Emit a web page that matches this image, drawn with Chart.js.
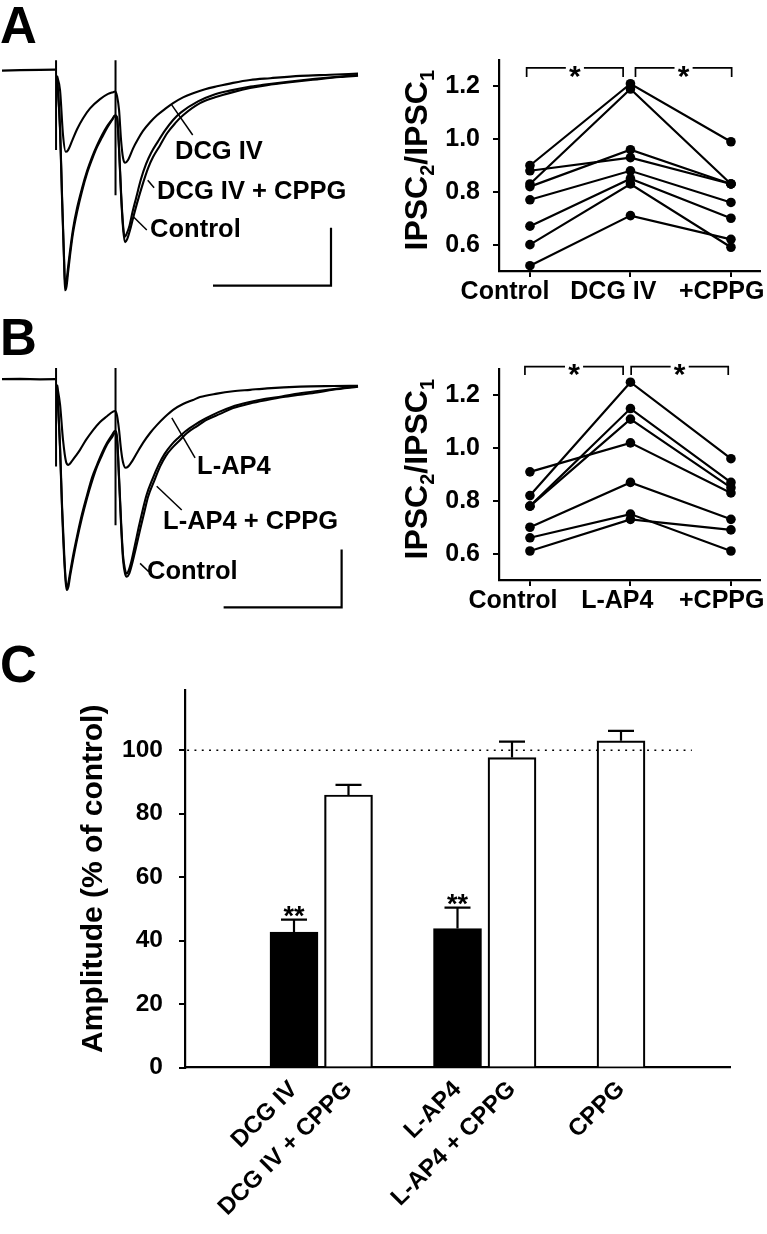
<!DOCTYPE html>
<html>
<head>
<meta charset="utf-8">
<script src="https://cdn.jsdelivr.net/npm/chart.js@4.4.0/dist/chart.umd.min.js"></script>
<style>
html,body{margin:0;padding:0;background:#fff;}
body{width:767px;height:1234px;position:relative;overflow:hidden;}
canvas{position:absolute;}
.letter{position:absolute;left:0;font:bold 51px/50px "Liberation Sans",Arial,sans-serif;color:#000;z-index:5;}
</style>
</head>
<body>
<canvas id="aTrace" width="390" height="310" style="left:0;top:0"></canvas>
<canvas id="aPlot" width="377" height="310" style="left:390px;top:0"></canvas>
<canvas id="bTrace" width="390" height="310" style="left:0;top:309px"></canvas>
<canvas id="bPlot" width="377" height="310" style="left:390px;top:309px"></canvas>
<canvas id="cBar" width="767" height="594" style="left:0;top:640px"></canvas>
<div class="letter" style="top:1px">A</div>
<div class="letter" style="top:313px">B</div>
<div class="letter" style="top:640px">C</div>
<script>
// ===================== DATA =====================
// Panel A traces: [time (ms), current (pA, relative to baseline)]
const traceA_baseline = [[-45.8,-1],[-30.5,0],[-13.6,0.5],[-0.5,1]];
const traceA_dcg = [[0.8,-10],[3.4,-35],[5.9,-112],[8.2,-141],[10.2,-138],[13.6,-122],[17.8,-102],[22.9,-83],[28.8,-66],[37.3,-50],[44.1,-41],[48.3,-38],[50.0,-37],
  [51.7,-45],[53.4,-69],[55.1,-121],[56.8,-152],[58.5,-160],[61.0,-155],[65.3,-135],[69.5,-119],[73.7,-105],[79.7,-90],[85.6,-78],[92.4,-67],[99.2,-57],[107.6,-47],[116.1,-40],[126.3,-33],[136.4,-28],[150.0,-22],[164.4,-17],[181.4,-14],[206.8,-10],[232.2,-8],[255.9,-6]];
const traceA_control = [[0.8,-10],[3.4,-104],[5.1,-224],[6.8,-331],[7.6,-380],[8.9,-373],[10.2,-349],[11.9,-319],[14.4,-281],[17.8,-245],[22.0,-209],[26.3,-178],[30.5,-154],[34.7,-133],[39.0,-116],[43.2,-100],[47.5,-86],[50.0,-79],
  [51.7,-83],[53.4,-138],[55.1,-216],[56.8,-273],[58.5,-297],[60.2,-292],[62.7,-276],[65.3,-255],[68.6,-230],[73.7,-195],[78.0,-169],[82.2,-150],[88.1,-130],[94.1,-109],[100.8,-92],[107.6,-78],[122.0,-57],[134.7,-47],[150.0,-38],[164.4,-31],[178.8,-26],[198.3,-21],[221.2,-16],[240.7,-12],[255.9,-9.5]];
const traceA_dcgCppg = [[0.8,-10],[3.4,-100],[5.1,-218],[6.8,-325],[7.6,-368],[8.9,-363],[10.2,-340],[11.9,-311],[14.4,-274],[17.8,-238],[22.0,-204],[26.3,-174],[30.5,-150],[34.7,-130],[39.0,-112],[43.2,-97],[47.5,-85],[50.0,-78],
  [51.7,-81],[53.4,-135],[55.1,-211],[56.8,-268],[58.1,-288],[59.7,-283],[62.3,-268],[64.8,-245],[67.8,-221],[72.0,-188],[76.3,-162],[80.5,-143],[86.4,-123],[92.4,-104],[99.2,-86],[105.9,-73],[120.3,-54],[133.1,-43],[148.3,-35],[162.7,-29],[177.1,-25],[196.6,-20],[219.5,-15],[240.7,-11],[255.9,-8.6]];
const stimA = [{t:0, top:17, bottom:-138}, {t:50.4, top:17, bottom:-216}];
const pointersA = [[[98,-60],[115.8,-112]], [[77.7,-190],[83.1,-203]], [[65.5,-253],[76.9,-276]]];
const labelsA = [{text:'DCG IV', t:100.8, pA:-141.5}, {text:'DCG IV + CPPG', t:85.6, pA:-210.6}, {text:'Control', t:79.7, pA:-276}];
const scaleBarA = {t:233, pA0:-372, ms:100, pA:100};

// Panel B traces
const traceB_baseline = [[-45.8,0],[-30.5,0.5],[-13.6,-0.3],[-0.5,0]];
const traceB_lap4 = [[0.8,-10],[3.4,-44],[5.9,-105],[8.5,-143],[10.4,-148],[13.6,-141],[16.9,-132],[20.3,-122],[25.4,-105],[31.4,-88],[37.3,-74],[43.2,-64],[48.3,-56],[50.0,-55],
  [51.7,-63],[53.4,-88],[55.1,-122],[56.8,-144],[58.9,-153],[61.0,-151],[65.3,-139],[69.5,-124],[73.7,-110],[79.7,-93],[85.6,-79],[92.4,-65],[99.2,-53],[107.6,-43],[116.1,-36],[122.0,-31],[136.4,-25],[150.0,-21],[164.4,-18.5],[178.8,-16],[206.8,-13],[234.7,-12],[255.9,-11.6]];
const traceB_control = [[0.8,-10],[3.4,-122],[5.1,-226],[7.2,-321],[9.1,-364],[10.6,-357],[11.9,-340],[14.4,-312],[17.8,-277],[22.0,-239],[26.3,-205],[30.5,-176],[34.7,-151],[39.0,-131],[43.2,-113],[47.5,-100],[50.0,-93],
  [51.7,-105],[53.4,-174],[55.1,-252],[56.8,-312],[58.5,-336],[59.9,-341],[61.9,-336],[64.4,-319],[67.8,-290],[71.2,-260],[74.6,-231],[78.0,-203],[83.1,-176],[88.1,-151],[93.2,-132],[99.2,-117],[105.1,-105],[111.0,-93],[119.5,-81],[128.0,-70],[139.0,-60],[150.0,-50],[164.4,-42],[178.8,-36],[192.4,-31],[206.8,-27],[221.2,-23],[234.7,-18.5],[255.9,-13.3]];
const traceB_lap4Cppg = [[0.8,-10],[3.4,-117],[5.1,-219],[7.2,-314],[8.9,-359],[10.4,-352],[11.9,-334],[14.4,-305],[17.8,-271],[22.0,-233],[26.3,-200],[30.5,-170],[34.7,-148],[39.0,-127],[43.2,-110],[47.5,-96],[50.0,-89],
  [51.7,-101],[53.4,-169],[55.1,-245],[56.8,-305],[58.5,-329],[59.6,-336],[61.4,-331],[63.9,-314],[66.9,-286],[69.9,-257],[73.3,-227],[76.7,-200],[81.8,-172],[86.9,-148],[92.0,-129],[97.9,-113],[103.8,-101],[109.7,-90],[118.2,-78],[126.7,-68],[137.7,-57],[148.7,-48],[163.1,-40],[177.5,-34],[191.1,-30],[205.5,-25],[219.9,-21],[233.9,-17.6],[255.9,-12.4]];
const stimB = [{t:0, top:19, bottom:-151}, {t:50.4, top:19, bottom:-252}];
const pointersB = [[[98.1,-67],[117.8,-136]], [[85.3,-185],[106.5,-226]], [[71.2,-318],[78.8,-333]]];
const labelsB = [{text:'L-AP4', t:119.5, pA:-151.4}, {text:'L-AP4 + CPPG', t:90.7, pA:-246}, {text:'Control', t:77.1, pA:-332}];
const scaleBarB = {t:242, pA0:-394, ms:100, pA:100};

// Paired-pulse ratio plots
const ratioTicks = [0.6, 0.8, 1.0, 1.2];
const categoriesA = ['Control', 'DCG IV', '+CPPG'];
const ratioA_control = [0.90, 0.83, 0.88, 0.82, 0.77, 0.67, 0.60, 0.52];
const ratioA_dcg     = [1.21, 1.19, 0.93, 0.96, 0.88, 0.85, 0.83, 0.71];
const ratioA_cppg    = [0.99, 0.83, 0.83, 0.83, 0.76, 0.70, 0.59, 0.62];
const bracketsA = [[-0.033, 0.927], [1.05, 2.007]];
const categoriesB = ['Control', 'L-AP4', '+CPPG'];
const ratioB_control = [0.91, 0.82, 0.78, 0.78, 0.70, 0.66, 0.61];
const ratioB_lap4    = [1.02, 1.25, 1.15, 1.11, 0.87, 0.75, 0.73];
const ratioB_cppg    = [0.83, 0.96, 0.87, 0.85, 0.73, 0.61, 0.69];
const bracketsB = [[-0.05, 0.927], [1.007, 1.973]];

// Panel C bars
const barLabels = ['DCG IV', 'DCG IV + CPPG', 'L-AP4', 'L-AP4 + CPPG', 'CPPG'];
const barMeans  = [42.7, 85.9, 43.8, 97.7, 103.0];
const barSEM    = [3.9, 3.2, 6.6, 5.0, 3.1];
const barSignif = ['**', '', '**', '', ''];
const ampTicks  = [0, 20, 40, 60, 80, 100];
const slotLabels = ['', '', 'DCG IV', 'DCG IV + CPPG', '', 'L-AP4', 'L-AP4 + CPPG', '', 'CPPG', '', ''];

// ===================== DRAWING =====================
const FONT = '"Liberation Sans", Arial, Helvetica, sans-serif';
Chart.defaults.font.family = FONT;
Chart.defaults.color = '#000';

const baseOpts = () => ({
  responsive:false, animation:false, devicePixelRatio:1, events:[],
  plugins:{legend:{display:false}, tooltip:{enabled:false}}
});

function traceLabelsPlugin(labels) {
  return { id:'traceLabels', afterDatasetsDraw(chart) {
    const {ctx} = chart, x = chart.scales.x, y = chart.scales.y;
    ctx.save(); ctx.fillStyle = '#000'; ctx.font = 'bold 25.5px ' + FONT;
    ctx.textAlign = 'left'; ctx.textBaseline = 'middle';
    labels.forEach(l => ctx.fillText(l.text, x.getPixelForValue(l.t), y.getPixelForValue(l.pA)));
    ctx.restore();
  }};
}

function makeTraceChart(id, p) {
  const pts = arr => arr.map(([t, v]) => ({x:t, y:v}));
  const seg = (arr, w) => ({data:pts(arr), borderColor:'#000', borderWidth:w, pointRadius:0, fill:false, tension:0});
  const datasets = [seg(p.baseline, 2.2)];
  p.traces.forEach(tr => datasets.push(Object.assign(seg(tr, 2.1), {cubicInterpolationMode:'monotone'})));
  p.stim.forEach(a => datasets.push(seg([[a.t, a.top], [a.t, a.bottom]], 2)));
  p.pointers.forEach(pt => datasets.push(seg(pt, 1.5)));
  const sb = p.scaleBar;
  datasets.push(seg([[sb.t - sb.ms, sb.pA0], [sb.t, sb.pA0], [sb.t, sb.pA0 + sb.pA]], 2.2));
  const o = baseOpts();
  o.layout = {padding:0};
  o.scales = {
    x:{type:'linear', display:false, min:-47.5, max:283},
    y:{type:'linear', display:false, min:-414, max:121}
  };
  new Chart(document.getElementById(id), {type:'line', data:{datasets}, options:o, plugins:[traceLabelsPlugin(p.labels)]});
}

function ratioDecorPlugin(p) {
  return { id:'ratioDecor', afterDatasetsDraw(chart) {
    const {ctx} = chart, x = chart.scales.x, y = chart.scales.y;
    ctx.save(); ctx.fillStyle = '#000';
    ctx.font = 'bold 30px ' + FONT; ctx.textAlign = 'center'; ctx.textBaseline = 'alphabetic';
    p.brackets.forEach(b => {
      ctx.fillText('*', x.getPixelForValue((b[0] + b[1]) / 2), y.getPixelForValue(p.bracketY[1]) + 0.59 * 30);
    });
    const big = 'bold 32px ' + FONT, small = 'bold 20px ' + FONT;
    ctx.font = big; const wI = ctx.measureText('IPSC').width, wSl = ctx.measureText('/').width;
    ctx.font = small; const w2 = ctx.measureText('2').width, w1 = ctx.measureText('1').width;
    const total = 2 * wI + wSl + w2 + w1;
    ctx.translate(y.left + 37, y.getPixelForValue(p.titleCenter));
    ctx.rotate(-Math.PI / 2);
    ctx.textAlign = 'left';
    let cx = -total / 2;
    ctx.font = big; ctx.fillText('IPSC', cx, 0); cx += wI;
    ctx.font = small; ctx.fillText('2', cx, 7); cx += w2;
    ctx.font = big; ctx.fillText('/', cx, 0); cx += wSl; ctx.fillText('IPSC', cx, 0); cx += wI;
    ctx.font = small; ctx.fillText('1', cx, 7);
    ctx.restore();
  }};
}

function makeRatioChart(id, p) {
  const datasets = p.ctrl.map((c, i) => ({
    data:[{x:0, y:c}, {x:1, y:p.drug[i]}, {x:2, y:p.cppg[i]}],
    borderColor:'#000', borderWidth:2.2, pointRadius:4.8, pointBackgroundColor:'#000',
    pointBorderWidth:0, fill:false, tension:0
  }));
  const g = 0.09;
  p.brackets.forEach(b => {
    const mid = (b[0] + b[1]) / 2, lo = p.bracketY[0], hi = p.bracketY[1];
    datasets.push({
      data:[{x:b[0], y:lo}, {x:b[0], y:hi}, {x:mid - g, y:hi}, {x:mid, y:null}, {x:mid + g, y:hi}, {x:b[1], y:hi}, {x:b[1], y:lo}],
      borderColor:'#000', borderWidth:1.7, pointRadius:0, fill:false, tension:0, clip:false, spanGaps:false
    });
  });
  const ticks3 = s => { s.ticks = [0, 1, 2].map(v => ({value:v})); };
  const o = baseOpts();
  o.layout = {padding:{top:60, right:7, left:0, bottom:0}};
  o.scales = {
    x:{type:'linear', min:-0.303, max:2.289, afterBuildTicks:ticks3,
       ticks:{display:false},
       grid:{drawOnChartArea:false, drawTicks:true, tickLength:6, color:'#000', lineWidth:2},
       border:{display:true, color:'#000', width:2.2},
       afterFit:s => { s.height = 6; }},
    x2:{type:'linear', position:'bottom', weight:1, bounds:'data', min:p.labelRange[0], max:p.labelRange[1], afterBuildTicks:ticks3,
       ticks:{autoSkip:false, maxRotation:0, minRotation:0, padding:0, font:{size:25, weight:'bold'}, color:'#000',
              callback:(v, i) => p.cats[i]},
       grid:{display:false, drawTicks:false}, border:{display:false},
       afterFit:s => { s.height = 33; }},
    y:{type:'linear', min:0.5, max:1.3,
       afterBuildTicks:s => { s.ticks = ratioTicks.map(v => ({value:v})); },
       ticks:{padding:13, font:{size:25, weight:'bold'}, color:'#000', callback:v => v.toFixed(1)},
       grid:{drawOnChartArea:false, drawTicks:true, tickLength:6.5, color:'#000', lineWidth:2},
       border:{color:'#000', width:2.2},
       afterFit:s => { s.width = 109.5; }}
  };
  new Chart(document.getElementById(id), {type:'line', data:{datasets}, options:o, plugins:[ratioDecorPlugin(p)]});
}

makeTraceChart('aTrace', {baseline:traceA_baseline, traces:[traceA_dcg, traceA_control, traceA_dcgCppg],
  stim:stimA, pointers:pointersA, labels:labelsA, scaleBar:scaleBarA});
makeTraceChart('bTrace', {baseline:traceB_baseline, traces:[traceB_lap4, traceB_control, traceB_lap4Cppg],
  stim:stimB, pointers:pointersB, labels:labelsB, scaleBar:scaleBarB});

makeRatioChart('aPlot', {cats:categoriesA, ctrl:ratioA_control, drug:ratioA_dcg, cppg:ratioA_cppg,
  brackets:bracketsA, bracketY:[1.236, 1.270], labelRange:[-0.0508, 2.353], titleCenter:0.92});
makeRatioChart('bPlot', {cats:categoriesB, ctrl:ratioB_control, drug:ratioB_lap4, cppg:ratioB_cppg,
  brackets:bracketsB, bracketY:[1.277, 1.309], labelRange:[-0.129, 2.367], titleCenter:0.92});

// Panel C
const slotIndex = l => barLabels.indexOf(l);
const slotValues = slotLabels.map(l => slotIndex(l) < 0 ? null : barMeans[slotIndex(l)]);
const slotSEM    = slotLabels.map(l => slotIndex(l) < 0 ? null : barSEM[slotIndex(l)]);
const slotSig    = slotLabels.map(l => slotIndex(l) < 0 ? '' : barSignif[slotIndex(l)]);

const barDecor = { id:'barDecor', afterDatasetsDraw(chart) {
  const {ctx} = chart, x = chart.scales.x, y = chart.scales.y;
  const meta = chart.getDatasetMeta(0);
  ctx.save();
  ctx.strokeStyle = '#000';
  // reference line at 100 %
  ctx.lineWidth = 1.7; ctx.setLineDash([1.9, 5.4]);
  const yr = y.getPixelForValue(100);
  ctx.beginPath(); ctx.moveTo(x.getPixelForValue(0.04), yr); ctx.lineTo(x.getPixelForValue(9.3), yr); ctx.stroke();
  ctx.setLineDash([]);
  // error bars + significance
  ctx.lineWidth = 2.2; ctx.fillStyle = '#000';
  meta.data.forEach((bar, i) => {
    const v = slotValues[i]; if (v === null) return;
    const xt = bar.x, y0 = y.getPixelForValue(v), y1 = y.getPixelForValue(v + slotSEM[i]);
    ctx.beginPath(); ctx.moveTo(xt, y0); ctx.lineTo(xt, y1);
    ctx.moveTo(xt - 13, y1); ctx.lineTo(xt + 13, y1); ctx.stroke();
    if (slotSig[i]) {
      ctx.font = 'bold 27px ' + FONT; ctx.textAlign = 'center'; ctx.textBaseline = 'alphabetic';
      ctx.fillText(slotSig[i], xt, y1 + 5);
    }
  });
  ctx.restore();
}};

const co = baseOpts();
co.layout = {padding:{top:50, right:37, left:0, bottom:0}};
co.scales = {
  x:{type:'category', offset:false,
     grid:{display:false, drawTicks:false}, border:{display:true, color:'#000', width:2.2},
     ticks:{autoSkip:false, maxRotation:45, minRotation:45, padding:8, font:{size:24, weight:'bold'}, color:'#000'},
     afterFit:s => { s.height = 166.5; }},
  y:{type:'linear', min:0, max:119,
     afterBuildTicks:s => { s.ticks = ampTicks.map(v => ({value:v})); },
     ticks:{padding:16, font:{size:24.5, weight:'bold'}, color:'#000'},
     grid:{drawOnChartArea:false, drawTicks:true, tickLength:6, color:'#000', lineWidth:2},
     border:{color:'#000', width:2.2},
     title:{display:true, text:'Amplitude (% of control)', font:{size:30, weight:'bold'}, color:'#000', padding:{top:76, bottom:0}},
     afterFit:s => { s.width = 185; }}
};
new Chart(document.getElementById('cBar'), {
  type:'bar',
  data:{labels:slotLabels, datasets:[{
    data:slotValues,
    backgroundColor:c => (slotLabels[c.dataIndex].indexOf('CPPG') >= 0 ? '#fff' : '#000'),
    borderColor:'#000', borderWidth:2.2, barThickness:48
  }]},
  options:co, plugins:[barDecor]
});
</script>
</body>
</html>
